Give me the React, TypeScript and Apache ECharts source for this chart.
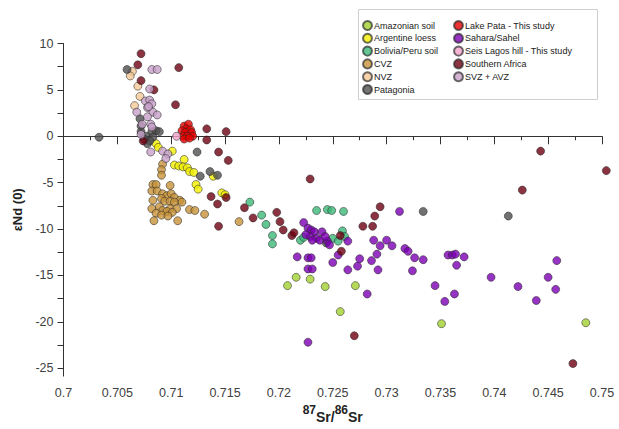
import React, { useEffect, useRef } from "react";
import * as echarts from "echarts";

const seriesNames = [
  "Amazonian soil",
  "Argentine loess",
  "Bolivia/Peru soil",
  "CVZ",
  "NVZ",
  "Patagonia",
  "Lake Pata - This study",
  "Sahara/Sahel",
  "Seis Lagos hill - This study",
  "Southern Africa",
  "SVZ + AVZ",
];

const seriesColors = [
  "#a2d02e",
  "#f2f000",
  "#3cb878",
  "#c8923a",
  "#f5c896",
  "#4f4f4f",
  "#e60000",
  "#7c00b4",
  "#f2a2c8",
  "#6e0010",
  "#c7a0c8",
];

const amazonianSoil = [
  [0.7208, -16.1], [0.7216, -15.2], [0.7229, -15.4], [0.7243, -16.2], [0.7271, -16.1],
  [0.7257, -18.9], [0.7351, -20.2], [0.7485, -20.1],
];

const argentineLoess = [
  [0.7086, -0.8], [0.7088, -1.2], [0.7101, -1.6], [0.7112, -2.5], [0.7103, -3.1],
  [0.7107, -3.2], [0.7111, -3.3], [0.7115, -3.4], [0.7117, -3.8], [0.7121, -3.9],
  [0.7123, -5.2], [0.7125, -5.7], [0.7139, -4.3], [0.7147, -6.1], [0.715, -6.3],
];

const boliviaPeruSoil = [
  [0.7173, -7.1], [0.7184, -8.5], [0.7188, -9.5], [0.7194, -10.7], [0.7194, -11.6],
  [0.7235, -8.0], [0.7245, -7.9], [0.7249, -8.0], [0.726, -8.1], [0.722, -11.2],
  [0.7223, -10.9], [0.725, -11.0], [0.7255, -11.3], [0.7259, -10.2], [0.7261, -10.8],
];

const cvz = [
  [0.7092, -3.0], [0.7091, -3.6], [0.7091, -4.2], [0.7083, -5.2], [0.7086, -5.2],
  [0.7099, -5.3], [0.7082, -5.9], [0.7087, -5.9], [0.7092, -6.2], [0.7096, -6.4],
  [0.71, -6.2], [0.7103, -6.6], [0.7108, -6.9], [0.7083, -6.9], [0.7091, -6.7],
  [0.7094, -7.0], [0.7099, -7.0], [0.7103, -7.1], [0.711, -7.1], [0.7082, -7.8],
  [0.7089, -7.6], [0.7092, -8.0], [0.7099, -7.8], [0.7105, -7.8], [0.7086, -8.3],
  [0.7096, -8.1], [0.7101, -8.2], [0.7091, -8.5], [0.7097, -8.6], [0.7117, -7.9],
  [0.7122, -8.0], [0.7131, -8.4], [0.7084, -9.1], [0.7106, -9.1], [0.7163, -9.2],
];

const nvz = [
  [0.7064, 7.0], [0.7062, 6.5], [0.7069, 5.4], [0.7071, 4.3], [0.7066, 3.3],
];

const patagonia = [
  [0.7033, -0.1], [0.7059, 7.2], [0.7071, 1.9], [0.7072, 1.1], [0.7072, 0.5],
  [0.7077, 0.0], [0.7082, 0.5], [0.7086, 0.6], [0.7089, 0.5], [0.7083, -0.1],
  [0.708, -0.5], [0.7078, -0.8], [0.7075, -0.3], [0.7124, -1.7], [0.7127, -4.3],
  [0.7136, -3.8], [0.7143, -4.2], [0.7334, -8.1], [0.7413, -8.6], [0.7244, -11.5],
];

const lakePata = [
  [0.7112, 1.1], [0.7116, 1.3], [0.7114, 0.8], [0.711, 0.6], [0.7118, 0.7],
  [0.7113, 0.4], [0.7119, 0.4], [0.7111, 0.0], [0.7115, 0.0], [0.712, 0.0],
  [0.7112, -0.3], [0.7117, -0.2],
];

const saharaSahel = [
  [0.7223, -9.3], [0.7227, -9.9], [0.723, -10.1], [0.7233, -10.3], [0.724, -10.3],
  [0.7229, -10.8], [0.7235, -11.0], [0.7231, -11.2], [0.7238, -11.2], [0.7245, -11.3],
  [0.7247, -11.7], [0.7264, -11.3], [0.7225, -10.6], [0.7243, -10.8],
  [0.7217, -13.0], [0.7227, -13.1], [0.723, -13.1], [0.7227, -14.3], [0.7231, -14.3],
  [0.725, -13.6], [0.7255, -12.8], [0.7264, -14.4], [0.7273, -14.0], [0.7275, -13.2],
  [0.7286, -13.4], [0.7292, -14.4], [0.7291, -12.7], [0.7288, -11.2], [0.7294, -11.8],
  [0.73, -11.2], [0.7305, -11.8], [0.7312, -8.1], [0.7317, -12.1], [0.732, -12.4],
  [0.7326, -13.1], [0.7334, -13.3], [0.7324, -14.5], [0.7282, -17.0], [0.7227, -22.2],
  [0.7357, -12.8], [0.7361, -12.8], [0.7364, -12.7], [0.7372, -13.0], [0.7365, -13.9],
  [0.7345, -16.1], [0.7363, -17.0], [0.7354, -17.8], [0.7397, -15.2], [0.7422, -16.2],
  [0.7439, -17.7], [0.745, -15.2], [0.7458, -13.4], [0.7457, -16.5],
];

const seisLagosHill = [[0.7105, 0.0]];

const southernAfrica = [
  [0.7072, 8.9], [0.7069, 7.7], [0.7072, 6.0], [0.7084, 5.0], [0.7107, 7.4],
  [0.7104, 3.4], [0.7133, 0.8], [0.7151, 0.5], [0.7133, -0.4], [0.7074, -0.5],
  [0.7144, -1.7], [0.7153, -2.6], [0.7137, -6.5], [0.7143, -7.3], [0.7151, -6.6],
  [0.7168, -7.7], [0.7198, -8.2], [0.7144, -9.7], [0.7176, -8.8], [0.7201, -9.2],
  [0.7204, -10.1], [0.7212, -10.7], [0.7214, -10.4], [0.7229, -4.6], [0.7257, -10.7],
  [0.7258, -12.4], [0.7278, -9.7], [0.7287, -9.7], [0.7289, -8.6], [0.7294, -7.6],
  [0.727, -21.5], [0.7443, -1.6], [0.7504, -3.7], [0.7426, -5.8], [0.7473, -24.5],
];

const svzAvz = [
  [0.7082, 7.2], [0.7087, 7.2], [0.708, 5.1], [0.7076, 3.8], [0.708, 3.9],
  [0.7082, 3.5], [0.7078, 3.1], [0.7068, 2.6], [0.7083, 2.6], [0.7087, 2.3],
  [0.7078, 2.1], [0.7073, 1.3], [0.7081, 1.3], [0.7082, 1.0], [0.7072, 0.2],
  [0.7081, -1.7], [0.7092, -1.6], [0.7097, -1.9], [0.7095, -2.4], [0.7079, 3.2],
];

const seriesData = [
  amazonianSoil, argentineLoess, boliviaPeruSoil, cvz, nvz, patagonia,
  lakePata, saharaSahel, seisLagosHill, southernAfrica, svzAvz,
];

const yLabelValues = [-25, -20, -15, -10, -5, 0, 5, 10];
const yTickValues = [-25, -22.5, -20, -17.5, -15, -12.5, -10, -7.5, -5, -2.5, 0, 2.5, 5, 7.5, 10];

const FONT = "'Liberation Sans', Arial, sans-serif";

export default function App() {
  const ref = useRef<HTMLDivElement>(null);
  useEffect(() => {
    if (!ref.current) return;
    const chart = echarts.init(ref.current, undefined, { renderer: "svg" });
    const legendText = {
      fontSize: 9,
      color: "#222",
      fontFamily: FONT,
      lineHeight: 9,
      height: 9,
      padding: [0, 0, 0, -3],
    };
    const legendCommon = {
      orient: "vertical",
      top: 20,
      padding: 0,
      itemWidth: 9,
      itemHeight: 9,
      itemGap: 1.8,
      icon: "circle",
      textStyle: legendText,
    };
    chart.setOption({
      animation: false,
      textStyle: { fontFamily: FONT },
      grid: { left: 63.5, right: 17, top: 43.5, bottom: 50 },
      legend: [
        { ...legendCommon, left: 362, data: seriesNames.slice(0, 6) },
        { ...legendCommon, left: 453, data: seriesNames.slice(6) },
      ],
      graphic: [
        {
          type: "rect",
          shape: { x: 358.5, y: 9.5, width: 239, height: 90 },
          style: { fill: "none", stroke: "#cfcfcf", lineWidth: 1 },
          silent: true,
        },
      ],
      xAxis: {
        type: "value",
        min: 0.7,
        max: 0.75,
        interval: 0.005,
        name: "{a|87}{b|Sr/}{a|86}{b|Sr}",
        nameLocation: "middle",
        nameGap: 17,
        nameTextStyle: {
          rich: {
            a: { fontSize: 12, fontWeight: "bold", color: "#222", verticalAlign: "top", lineHeight: 16, fontFamily: FONT },
            b: { fontSize: 14, fontWeight: "bold", color: "#222", verticalAlign: "bottom", lineHeight: 20, fontFamily: FONT },
          },
        },
        axisLine: { show: true, lineStyle: { color: "#333", width: 1 } },
        axisTick: { show: true, length: 8, lineStyle: { color: "#333" } },
        minorTick: { show: true, splitNumber: 2, length: 4, lineStyle: { color: "#333" } },
        splitLine: { show: false },
        axisLabel: {
          fontSize: 12.5,
          color: "#404040",
          margin: 10,
          formatter: (v: number) => String(+v.toFixed(3)),
        },
      },
      yAxis: {
        type: "value",
        min: -25.85,
        max: 10,
        name: "εNd (0)",
        nameLocation: "middle",
        nameGap: 40,
        nameTextStyle: { fontSize: 13, fontWeight: "bold", color: "#222" },
        axisLine: { show: true, lineStyle: { color: "#333", width: 1 } },
        axisTick: { show: true, length: 6, customValues: yTickValues, lineStyle: { color: "#333" } },
        splitLine: { show: false },
        axisLabel: {
          fontSize: 12.5,
          color: "#404040",
          margin: 10,
          customValues: yLabelValues,
        },
      },
      series: seriesNames.map((name, i) => ({
        name,
        type: "scatter",
        data: seriesData[i],
        symbol: "circle",
        symbolSize: 8,
        clip: false,
        itemStyle: {
          color: seriesColors[i],
          borderColor: "rgba(40,40,40,0.85)",
          borderWidth: 0.8,
        },
      })),
    });
    return () => chart.dispose();
  }, []);
  return (
    <div
      ref={ref}
      style={{ position: "fixed", left: 0, top: 0, width: 619, height: 429, background: "#fff" }}
    />
  );
}
